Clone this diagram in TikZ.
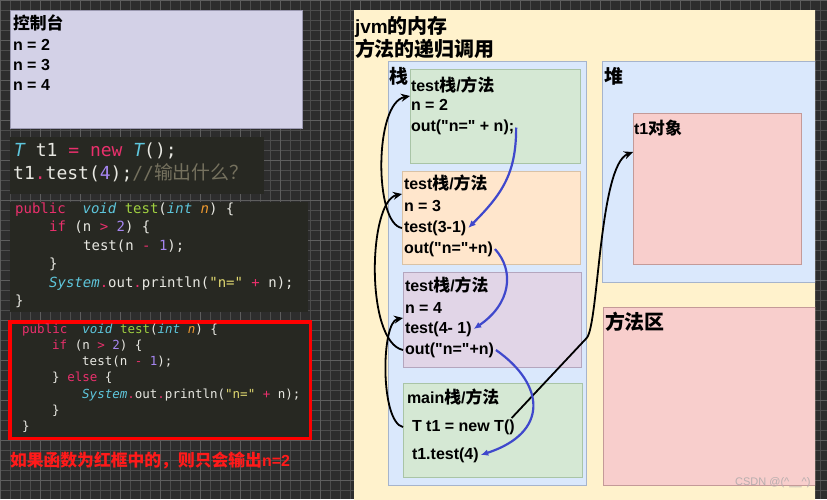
\documentclass[tikz,border=0pt]{standalone}
\usepackage{fontspec}
\setmainfont{Liberation Sans}
\setmonofont{DejaVu Sans Mono}
\newfontfamily\lbfont{Liberation Sans}
\newfontfamily\cjk{Noto Sans CJK SC}[Scale=1.05]
\usetikzlibrary{arrows.meta}

\definecolor{gridbg}{HTML}{2D2D2D}
\definecolor{gridln}{HTML}{4C4C4C}
\definecolor{gridmj}{HTML}{5E5E5E}
\definecolor{codebg}{HTML}{272822}
\definecolor{consolebg}{HTML}{D3D1E7}
\definecolor{consolebd}{HTML}{9A98B0}
\definecolor{jvmbg}{HTML}{FFF2CC}
\definecolor{areabg}{HTML}{DAE8FC}
\definecolor{areabd}{HTML}{A6B4CC}
\definecolor{greenbg}{HTML}{D5E8D4}
\definecolor{greenbd}{HTML}{A9C4A6}
\definecolor{orangebg}{HTML}{FFE6CC}
\definecolor{orangebd}{HTML}{D9C2A6}
\definecolor{purplebg}{HTML}{E1D5E7}
\definecolor{purplebd}{HTML}{B4A6BE}
\definecolor{pinkbg}{HTML}{F8CECC}
\definecolor{pinkbd}{HTML}{C49A98}
\definecolor{callblue}{HTML}{3F48CC}
\definecolor{notered}{HTML}{FF1A1A}
\definecolor{wmgrey}{HTML}{B8AEAE}
\definecolor{ctext}{HTML}{E8E8E2}
\definecolor{cpink}{HTML}{E9306C}
\definecolor{ccyan}{HTML}{5EC6DC}
\definecolor{cgreen}{HTML}{A0D040}
\definecolor{corange}{HTML}{F09A30}
\definecolor{cpurple}{HTML}{A585F0}
\definecolor{cyellow}{HTML}{E0D870}
\definecolor{cgrey}{HTML}{75715E}

\newcommand{\zh}[1]{{\cjk #1}}
\newcommand{\kwd}[1]{\textcolor{cpink}{#1}}
\newcommand{\typ}[1]{\textcolor{ccyan}{\itshape #1}}
\newcommand{\fnc}[1]{\textcolor{cgreen}{#1}}
\newcommand{\nmb}[1]{\textcolor{cpurple}{#1}}
\newcommand{\strg}[1]{\textcolor{cyellow}{#1}}
\newcommand{\prm}[1]{\textcolor{corange}{\itshape #1}}
\newcommand{\cmt}[1]{\textcolor{cgrey}{#1}}

\tikzset{area/.style={draw=#1,line width=0.7pt,inner sep=0pt,outer sep=0pt,anchor=north west},
  lbl/.style={anchor=west,inner sep=0pt,outer sep=2pt,text height=11pt,text depth=3pt,font=\lbfont\bfseries\fontsize{16}{18}\selectfont},
  head/.style={lbl,font=\lbfont\bfseries\fontsize{18}{20}\selectfont},
  title/.style={lbl,text height=13pt,font=\lbfont\bfseries\fontsize{19}{21}\selectfont},
  code/.style={anchor=west,inner sep=0pt,text=ctext,text height=10pt,text depth=3pt,font=\ttfamily\fontsize{14}{16}\selectfont},
  codea/.style={code,text height=13pt,text depth=4pt,font=\ttfamily\fontsize{18}{20}\selectfont},
  codeb/.style={code,text height=9pt,text depth=3pt,font=\ttfamily\fontsize{12.5}{14}\selectfont},
  call/.style={draw=black,line width=1.8pt,-{Stealth[length=9pt,width=8pt]}},
  ret/.style={draw=callblue,line width=2.2pt,-{Latex[length=7.5pt,width=6.5pt]}}}

\begin{document}
\begin{tikzpicture}[x=1pt,y=-1pt]
\useasboundingbox (0,0) rectangle (827,499);
\fill[gridbg] (0,0) rectangle (827,499);
\draw[gridln,line width=0.4pt,step=10pt] (0,0) grid (827,499);
\draw[gridmj,line width=0.5pt,step=40pt] (0,0) grid (827,499);

% console and code
\node[area=consolebd,fill=consolebg,minimum width=292pt,minimum height=118pt] (con) at (10,10) {};
\node[lbl] (c0) at (11,25) {\zh{控制台}};
\node[lbl] (c1) at (11,46) {n = 2};
\node[lbl] (c2) at (11,66.5) {n = 3};
\node[lbl] (c3) at (11,86.5) {n = 4};

\node[area=codebg,fill=codebg,minimum width=253pt,minimum height=56pt] (cd1) at (10,137) {};
\node[codea] (a1) at (14,152) {\typ{T} t1 \kwd{=} \kwd{new} \typ{T}();};
\node[codea] (a2) at (13,175) {t1\kwd{.}test(\nmb{4});\cmt{//\zh{输出什么？}}};

\node[area=codebg,fill=codebg,minimum width=297pt,minimum height=109pt] (cd2) at (10,202) {};
\node[code] (b1) at (15,209.5) {\kwd{public}\ \ \typ{void} \fnc{test}(\typ{int} \prm{n}) \{};
\node[code] (b2) at (49,228) {\kwd{if} (n \kwd{>} \nmb{2}) \{};
\node[code] (b3) at (83,246.5) {test(n \kwd{-} \nmb{1});};
\node[code] (b4) at (49,265) {\}};
\node[code] (b5) at (49,283.5) {\typ{System}\kwd{.}out\kwd{.}println(\strg{"n="} \kwd{+} n);};
\node[code] (b6) at (15,302) {\}};

\node[area=red,fill=codebg,line width=3.5pt,minimum width=300.5pt,minimum height=116.5pt] (cd3) at (9.75,321.75) {};
\node[codeb] (e1) at (22,330) {\kwd{public}\ \ \typ{void} \fnc{test}(\typ{int} \prm{n}) \{};
\node[codeb] (e2) at (52,346) {\kwd{if} (n \kwd{>} \nmb{2}) \{};
\node[codeb] (e3) at (82,362) {test(n \kwd{-} \nmb{1});};
\node[codeb] (e4) at (52,378.5) {\} \kwd{else} \{};
\node[codeb] (e5) at (82,395) {\typ{System}\kwd{.}out\kwd{.}println(\strg{"n="} \kwd{+} n);};
\node[codeb] (e6) at (52,411) {\}};
\node[codeb] (e7) at (22,427) {\}};

\node[lbl,text=notered] (note) at (8,462) {\zh{如果函数为红框中的，则只会输出}n=2};

% jvm memory
\begin{scope}
\clip (354,10) rectangle (815,499);
\node[area=jvmbg,fill=jvmbg,minimum width=461pt,minimum height=489pt] (jvm) at (354,10) {};
\node[title] (jvmt) at (353,28) {jvm\zh{的内存}};
\node[title] (jvms) at (353,51) {\zh{方法的递归调用}};

\node[area=areabd,fill=areabg,minimum width=198pt,minimum height=424pt] (stk) at (388,61) {};
\node[area=areabd,fill=areabg,minimum width=220pt,minimum height=221pt] (heap) at (602,61) {};
\node[area=pinkbd,fill=pinkbg,minimum width=220pt,minimum height=178pt] (meth) at (603,307) {};
\node[area=pinkbd,fill=pinkbg,minimum width=168pt,minimum height=151pt] (t1) at (633,113) {};
\node[head] (stkl) at (387,79) {\zh{栈}};
\node[head] (heapl) at (602,79) {\zh{堆}};
\node[lbl] (t1l) at (632,130) {t1\zh{对象}};
\node[title] (methl) at (603,324) {\zh{方法区}};

\node[area=greenbd,fill=greenbg,minimum width=170pt,minimum height=94pt] (f1) at (410,69) {};
\node[area=orangebd,fill=orangebg,minimum width=178pt,minimum height=93pt] (f2) at (402,171) {};
\node[area=purplebd,fill=purplebg,minimum width=178pt,minimum height=95pt] (f3) at (403,272) {};
\node[area=greenbd,fill=greenbg,minimum width=179pt,minimum height=94pt] (m) at (403,383) {};

\node[lbl] (f1a) at (409,87) {test\zh{栈}/\zh{方法}};
\node[lbl] (f1b) at (409,106) {n = 2};
\node[lbl] (f1c) at (409,127.5) {out("n=" + n);};
\node[lbl] (f2a) at (402,185) {test\zh{栈}/\zh{方法}};
\node[lbl] (f2b) at (402,207) {n = 3};
\node[lbl] (f2c) at (402,228) {test(3-1)};
\node[lbl] (f2d) at (402,249) {out("n="+n)};
\node[lbl] (f3a) at (403,287) {test\zh{栈}/\zh{方法}};
\node[lbl] (f3b) at (403,309) {n = 4};
\node[lbl] (f3c) at (403,329) {test(4- 1)};
\node[lbl] (f3d) at (403,350) {out("n="+n)};
\node[lbl] (ma) at (405,399) {main\zh{栈}/\zh{方法}};
\node[lbl] (m1) at (410,427) {T t1 = new T()};
\node[lbl] (m2) at (410,455) {t1.test(4)};

\node[anchor=west,inner sep=0pt,font=\fontsize{11}{12}\selectfont,text=wmgrey] (wm) at (735,483) {CSDN @(\textasciicircum\_\_\textasciicircum)};

% calls
\draw[call] (f2.west |- f2c.west) .. controls +(-28,-4) and +(-36,7) .. (f1.west |- f1a.south);
\draw[call] (f3.west |- f3d.west) .. controls +(-38,-8) and +(-34,7) .. (f2.west |- f2a.south);
\draw[call] (m.west |- m1.west) .. controls +(-23,-5) and +(-22,4) .. (f3.west |- f3b.south);
\draw[call] ([xshift=-5pt]m1.north east) -- +(75,-80) .. controls +(12,-13) and +(-34,13) .. ([yshift=-39pt]t1.north west);
% returns
\draw[ret] (f1c.east) .. controls +(0,45) and +(35,-35) .. (f2c.east);
\draw[ret] (f2d.east) .. controls +(20,22) and +(37,-25) .. (f3c.east);
\draw[ret] (f3d.east) .. controls +(50,35) and +(68,-22) .. (m2.east);
\end{scope}
\end{tikzpicture}
\end{document}
